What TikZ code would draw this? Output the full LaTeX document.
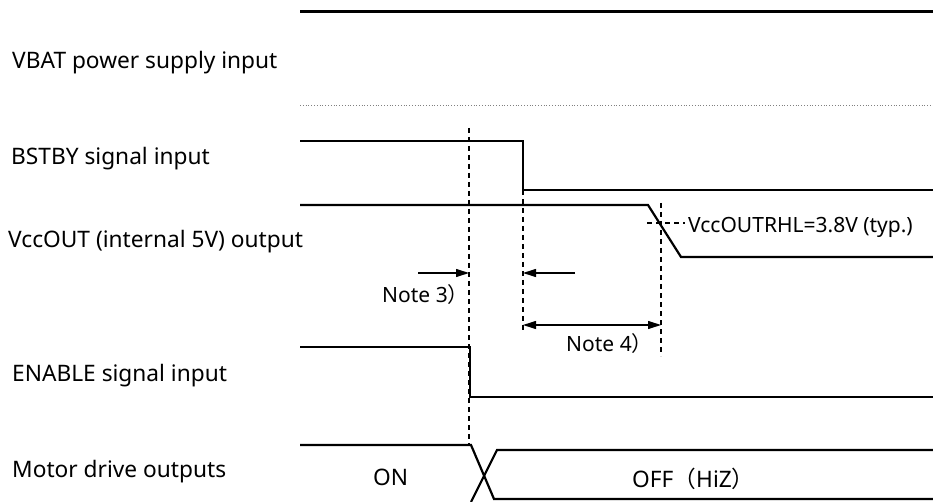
\documentclass[tikz,border=0pt]{standalone}
\usepackage{fontspec}
\setmainfont{Noto Sans}
\newfontfamily\cjkfont{Noto Sans CJK JP}
\usetikzlibrary{arrows.meta}
\newcommand{\fwopen}{{\cjkfont （}}
\newcommand{\fwclose}{{\cjkfont ）}}
\tikzset{
  sig/.style={line width=2.2pt},
  guide/.style={line width=1.1pt, dash pattern=on 5pt off 4pt},
  dimarrow/.style={line width=1.1pt, -{Triangle[length=13pt,width=8pt]}},
  lbl/.style={font=\fontsize{21}{25}\selectfont, anchor=base west, inner sep=0pt},
  rowlbl/.style={lbl, font=\fontsize{22.7}{27}\selectfont},
}

\begin{document}
\begin{tikzpicture}[x=1pt, y=-1pt]
  \useasboundingbox (0,0) rectangle (933,502);
  % row names
  \node[rowlbl] (vbatname)   at (12,69)  {VBAT power supply input};
  \node[rowlbl] (bstbyname)  at (11,165) {BSTBY signal input};
  \node[rowlbl] (vccname)    at (8,248)  {VccOUT (internal 5V) output};
  \node[rowlbl] (enname)     at (12,381) {ENABLE signal input};
  \node[rowlbl] (motorname)  at (12,477) {Motor drive outputs};
  % waveforms
  \draw[line width=3pt] (300,12) -- (933,12);
  \draw[gray, line width=0.8pt, dotted] (300,105) -- (933,105);
  \draw[sig] (300,141) -- (523,141) -- (523,190) -- (933,190);
  \draw[sig] (300,205) -- (648,205) -- (681,257) -- (933,257);
  \draw[sig] (300,347) -- (470,347) -- (470,397) -- (933,397);
  \draw[sig] (300,445) -- (471,445) -- (494,499) -- (933,499);
  \draw[sig] (471,502) -- (497,450) -- (933,450);
  % timing marks
  \coordinate (tEnTop) at (469,128);
  \coordinate (tEnBot) at (469,445);
  \coordinate (tStTop) at (523,190);
  \coordinate (tStBot) at (523,332);
  \coordinate (tVcTop) at (661,203);
  \coordinate (tVcBot) at (661,356);
  \draw[guide] (tEnTop) -- (tEnBot);
  \draw[guide] (tStTop) -- (tStBot);
  \draw[guide] (tVcTop) -- (tVcBot);
  \coordinate (thrL) at (647,223);
  \coordinate (thrR) at (685,223);
  \draw[guide] (thrL) -- (thrR);
  \node[lbl] (thrtext) at (688,233) {VccOUTRHL=3.8V (typ.)};
  % notes
  \coordinate (n3start) at (418,273);
  \coordinate (n3end)   at (469,273);
  \coordinate (n4start) at (575,273);
  \coordinate (n4end)   at (523,273);
  \coordinate (n4a) at (523,325);
  \coordinate (n4b) at (661,325);
  \draw[dimarrow] (n3start) -- (n3end);
  \draw[dimarrow] (n4start) -- (n4end);
  \draw[dimarrow, {Triangle[length=13pt,width=8pt]}-{Triangle[length=13pt,width=8pt]}] (n4a) -- (n4b);
  \node[lbl] (note3) at (382,302) {Note 3\fwclose};
  \node[lbl] (note4) at (566,351) {Note 4\fwclose};
  % motor states
  \node[rowlbl] (onlbl)  at (373,485) {ON};
  \node[rowlbl] (offlbl) at (632,487) {OFF\fwopen HiZ\fwclose};
\end{tikzpicture}
\end{document}
